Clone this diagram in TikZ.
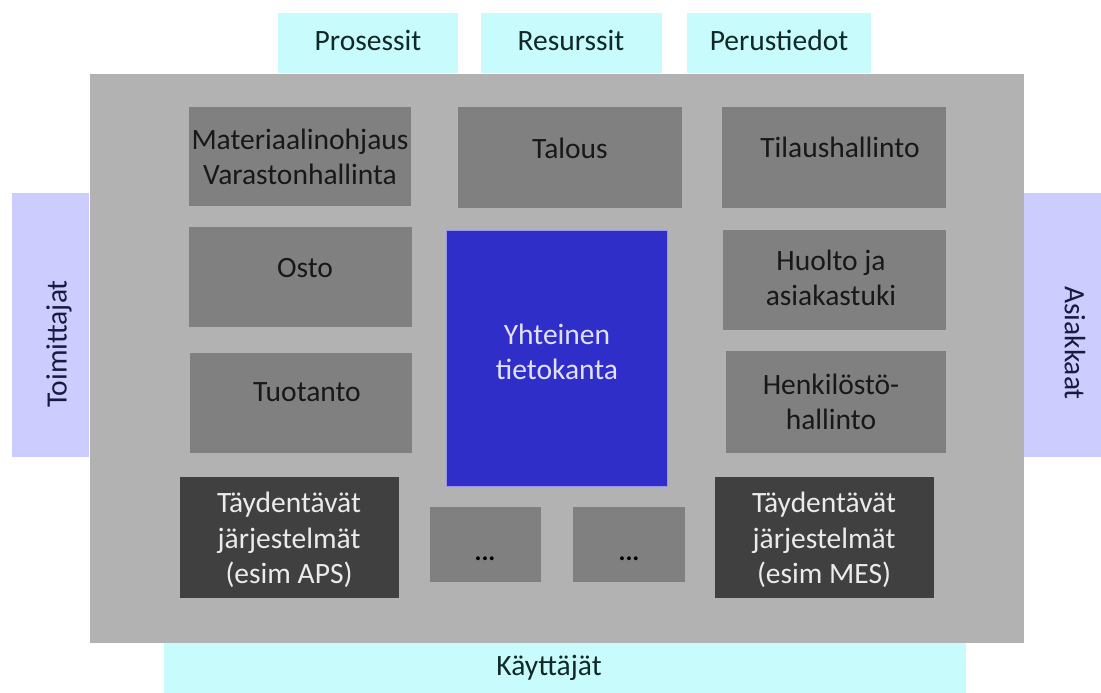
\documentclass[tikz,border=0pt]{standalone}
\usepackage{fontspec}
\setmainfont{Carlito}
\definecolor{tabcyan}{RGB}{200,252,252}
\definecolor{tablav}{RGB}{204,204,255}
\definecolor{maingray}{RGB}{178,178,178}
\definecolor{modgray}{RGB}{128,128,128}
\definecolor{darkbox}{RGB}{64,64,64}
\definecolor{dbblue}{RGB}{48,46,200}
\definecolor{dbedge}{RGB}{150,150,235}
\definecolor{tabtext}{RGB}{16,40,40}
\definecolor{sidetext}{RGB}{26,26,64}
\definecolor{bluetext}{RGB}{225,225,255}
\definecolor{lighttext}{RGB}{235,235,235}
\definecolor{modtext}{RGB}{24,24,24}
\begin{document}
\begin{tikzpicture}[x=1pt,y=-1pt,
  every node/.style={inner sep=0pt,outer sep=0pt},
  txt/.style={font=\fontsize{29.5}{35.5}\selectfont,align=center},
  tabc/.style={fill=tabcyan,draw=none},
  tabl/.style={fill=tablav,draw=none},
  modbox/.style={fill=modgray,draw=none},
  darkb/.style={fill=darkbox,draw=none},
  modt/.style={txt,text=modtext},
  darkt/.style={txt,text=lighttext}]
\useasboundingbox (0,0) rectangle (1101,693);
\fill[white] (0,0) rectangle (1101,693);
% outer tabs
\node[tabc,minimum width=180pt,minimum height=60pt] (tP) at (368,43) {};
\node[tabc,minimum width=181pt,minimum height=60pt] (tR) at (571.5,43) {};
\node[tabc,minimum width=184pt,minimum height=60pt] (tB) at (779,43) {};
\node[tabc,minimum width=802pt,minimum height=50pt] (tK) at (565,668) {};
\node[tabl,minimum width=77pt,minimum height=264pt] (tT) at (50.5,325) {};
\node[tabl,minimum width=77pt,minimum height=264pt] (tA) at (1062.5,325) {};
\node[txt,text=tabtext] (lP) at (368,40) {Prosessit};
\node[txt,text=tabtext] (lR) at (571,40) {Resurssit};
\node[txt,text=tabtext] (lB) at (779,40) {Perustiedot};
\node[txt,text=tabtext] (lK) at (549,668) {Käyttäjät};
\node[txt,text=sidetext,rotate=90] (lT) at (59,344) {Toimittajat};
\node[txt,text=sidetext,rotate=-90] (lA) at (1075,343) {Asiakkaat};
% main area
\node[fill=maingray,minimum width=934pt,minimum height=569pt] (main) at (557,358.5) {};
% modules
\node[modbox,minimum width=222pt,minimum height=99pt] (bMat) at (300,156.5) {};
\node[modbox,minimum width=224pt,minimum height=101pt] (bTal) at (570,157.5) {};
\node[modbox,minimum width=224pt,minimum height=101pt] (bTil) at (834,157.5) {};
\node[modbox,minimum width=223pt,minimum height=100pt] (bOst) at (300.5,277) {};
\node[modbox,minimum width=222pt,minimum height=100pt] (bTuo) at (301,403) {};
\node[modbox,minimum width=223pt,minimum height=100pt] (bHuo) at (834.5,280) {};
\node[modbox,minimum width=220pt,minimum height=102pt] (bHen) at (836,402) {};
\node[fill=dbblue,draw=dbedge,line width=1pt,minimum width=221pt,minimum height=256pt] (bDb) at (557,358.5) {};
\node[darkb,minimum width=219pt,minimum height=121pt] (bAps) at (289.5,537.5) {};
\node[darkb,minimum width=219pt,minimum height=121pt] (bMes) at (824.5,537.5) {};
\node[modbox,minimum width=111pt,minimum height=75pt] (bD1) at (485.5,544.5) {};
\node[modbox,minimum width=112pt,minimum height=75pt] (bD2) at (629,544.5) {};
% module texts
\node[modt] (tMat) at (300,157) {Materiaalinohjaus\\Varastonhallinta};
\node[modt] (tTal) at (570,148) {Talous};
\node[modt] (tTil) at (840,147) {Tilaushallinto};
\node[modt] (tOst) at (305,268) {Osto};
\node[modt] (tTuo) at (307,392) {Tuotanto};
\node[modt] (tHuo) at (831,278) {Huolto ja\\asiakastuki};
\node[modt] (tHen) at (831,402) {Henkilöstö-\\hallinto};
\node[txt,text=bluetext] (tDb) at (557,352) {Yhteinen\\tietokanta};
\node[darkt] (tAps) at (289,540) {Täydentävät\\järjestelmät\\(esim APS)};
\node[darkt] (tMes) at (824,540) {Täydentävät\\järjestelmät\\(esim MES)};
\node[modt,font=\fontsize{26}{30}\bfseries,text=black] (tD1) at (485,559) {...};
\node[modt,font=\fontsize{26}{30}\bfseries,text=black] (tD2) at (629,559) {...};
\end{tikzpicture}
\end{document}
